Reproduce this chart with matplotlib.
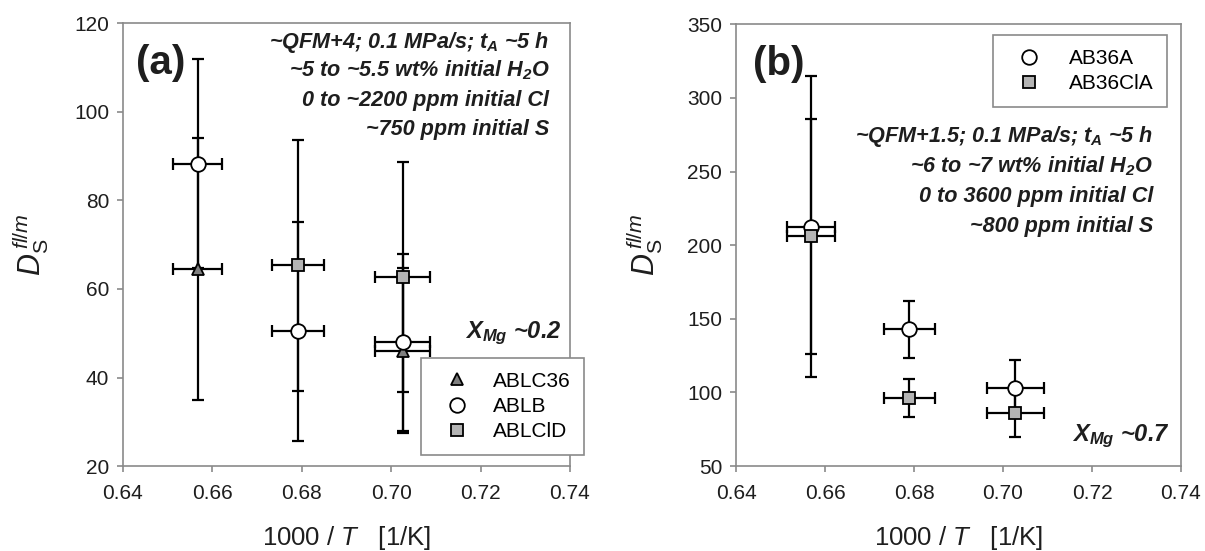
import numpy as np
import matplotlib
matplotlib.use('Agg')
import matplotlib.pyplot as plt
from matplotlib.ticker import MultipleLocator, FormatStrFormatter

plt.rcParams['font.family'] = ['Liberation Sans', 'DejaVu Sans']
plt.rcParams['mathtext.fontset'] = 'custom'
plt.rcParams['mathtext.rm'] = 'Liberation Sans'
plt.rcParams['mathtext.it'] = 'Liberation Sans:italic'
plt.rcParams['mathtext.bf'] = 'Liberation Sans:bold'

# panel (a), X_Mg ~0.2
ablc36_x = [0.6567, 0.7026]
ablc36_xerr = [0.0054, 0.0062]
ablc36_y = [64.5, 46.1]
ablc36_yerr = [29.5, 18.6]

ablb_x = [0.6567, 0.6791, 0.7026]
ablb_xerr = [0.0054, 0.0058, 0.0062]
ablb_y = [88.3, 50.4, 48.0]
ablb_yerr = [23.5, 24.8, 20.0]

ablcld_x = [0.6791, 0.7026]
ablcld_xerr = [0.0058, 0.0062]
ablcld_y = [65.3, 62.7]
ablcld_yerr = [28.3, 26.0]

# panel (b), X_Mg ~0.7
ab36a_x = [0.6568, 0.6789, 0.7028]
ab36a_xerr = [0.0053, 0.0057, 0.0063]
ab36a_y = [212.6, 142.8, 103.1]
ab36a_yerr = [102.3, 19.4, 19.0]

ab36cla_x = [0.6568, 0.6789, 0.7028]
ab36cla_xerr = [0.0053, 0.0057, 0.0063]
ab36cla_y = [206.2, 96.5, 86.4]
ab36cla_yerr = [79.8, 13.0, 16.6]

notes_a = ['~QFM+4; 0.1 MPa/s; $\\mathdefault{t_A}$ ~5 h',
           '~5 to ~5.5 wt% initial $\\mathdefault{H_2O}$',
           '0 to ~2200 ppm initial Cl',
           '~750 ppm initial S']
notes_b = ['~QFM+1.5; 0.1 MPa/s; $\\mathdefault{t_A}$ ~5 h',
           '~6 to ~7 wt% initial $\\mathdefault{H_2O}$',
           '0 to 3600 ppm initial Cl',
           '~800 ppm initial S']

GRAY = '#8a8a8a'
TXT = '#1e1e1e'


def draw_series(ax, x, y, xerr, yerr, marker, face, size, label, z):
    ax.errorbar(x, y, xerr=xerr, yerr=yerr, fmt='none', ecolor='black',
                elinewidth=1.6, capsize=4.5, capthick=1.6, zorder=2)
    ax.plot(x, y, linestyle='none', marker=marker, markersize=size,
            markerfacecolor=face, markeredgecolor='black',
            markeredgewidth=1.3, label=label, zorder=z)


def style_axes(ax, ymin, ymax, ystep):
    ax.set_xlim(0.64, 0.74)
    ax.set_ylim(ymin, ymax)
    ax.xaxis.set_major_locator(MultipleLocator(0.02))
    ax.xaxis.set_major_formatter(FormatStrFormatter('%.2f'))
    ax.yaxis.set_major_locator(MultipleLocator(ystep))
    for s in ax.spines.values():
        s.set_color(GRAY)
        s.set_linewidth(1.2)
    ax.tick_params(axis='both', direction='out', length=4, width=1.2,
                   color=GRAY, labelsize=15, labelcolor=TXT)
    ax.tick_params(axis='x', pad=9)
    ax.tick_params(axis='y', pad=6)
    ax.set_xlabel('1000 / $T$   [1/K]', fontsize=18.5, color=TXT)
    ax.xaxis.set_label_coords(0.5, -0.13)
    ax.set_ylabel('$D_{\\mathrm{S}}^{\\,fl/m}$', fontsize=22, color=TXT)
    ax.yaxis.set_label_coords(-0.16, 0.5)


fig = plt.figure(figsize=(12.05, 5.51), dpi=100)
ax1 = fig.add_axes([0.102, 0.154, 0.371, 0.804])
ax2 = fig.add_axes([0.611, 0.154, 0.369, 0.802])

# (a)
draw_series(ax1, ablc36_x, ablc36_y, ablc36_xerr, ablc36_yerr, '^', '#7f7f7f', 9, 'ABLC36', 3)
draw_series(ax1, ablb_x, ablb_y, ablb_xerr, ablb_yerr, 'o', 'white', 10.5, 'ABLB', 5)
draw_series(ax1, ablcld_x, ablcld_y, ablcld_xerr, ablcld_yerr, 's', '#b4b4b4', 9, 'ABLClD', 4)
style_axes(ax1, 20, 120, 20)
leg = ax1.legend(loc='upper left', bbox_to_anchor=(0.666, 0.244), borderaxespad=0,
                 fontsize=15, handlelength=2.2, handletextpad=0.6, borderpad=0.65,
                 labelspacing=0.3, fancybox=False, framealpha=1, edgecolor=GRAY)
leg.get_frame().set_linewidth(1.2)
leg.set_zorder(10)
ax1.text(0.029, 0.91, '(a)', transform=ax1.transAxes, fontsize=29, fontweight='bold',
         va='center', ha='left', color=TXT)
for i, s in enumerate(notes_a):
    ax1.text(0.954, 0.945 - i * 0.0655, s, transform=ax1.transAxes, fontsize=15.6,
             fontweight='bold', style='italic', ha='right', va='baseline', color=TXT)
ax1.text(0.982, 0.289, '$\\mathdefault{X_{Mg}}$ ~0.2', transform=ax1.transAxes,
         fontsize=17, fontweight='bold', style='italic', ha='right', va='baseline', color=TXT)

# (b)
draw_series(ax2, ab36a_x, ab36a_y, ab36a_xerr, ab36a_yerr, 'o', 'white', 10.5, 'AB36A', 3)
draw_series(ax2, ab36cla_x, ab36cla_y, ab36cla_xerr, ab36cla_yerr, 's', '#b4b4b4', 9, 'AB36ClA', 4)
style_axes(ax2, 50, 350, 50)
leg2 = ax2.legend(loc='upper left', bbox_to_anchor=(0.577, 0.975), borderaxespad=0,
                  fontsize=15, handlelength=2.2, handletextpad=0.8, borderpad=0.65,
                  labelspacing=0.3, fancybox=False, framealpha=1, edgecolor=GRAY)
leg2.get_frame().set_linewidth(1.2)
ax2.text(0.037, 0.911, '(b)', transform=ax2.transAxes, fontsize=29, fontweight='bold',
         va='center', ha='left', color=TXT)
for i, s in enumerate(notes_b):
    ax2.text(0.937, 0.733 - i * 0.068, s, transform=ax2.transAxes, fontsize=15.6,
             fontweight='bold', style='italic', ha='right', va='baseline', color=TXT)
ax2.text(0.974, 0.057, '$\\mathdefault{X_{Mg}}$ ~0.7', transform=ax2.transAxes,
         fontsize=17, fontweight='bold', style='italic', ha='right', va='baseline', color=TXT)

fig.savefig('out.png', dpi=100, facecolor='white')
